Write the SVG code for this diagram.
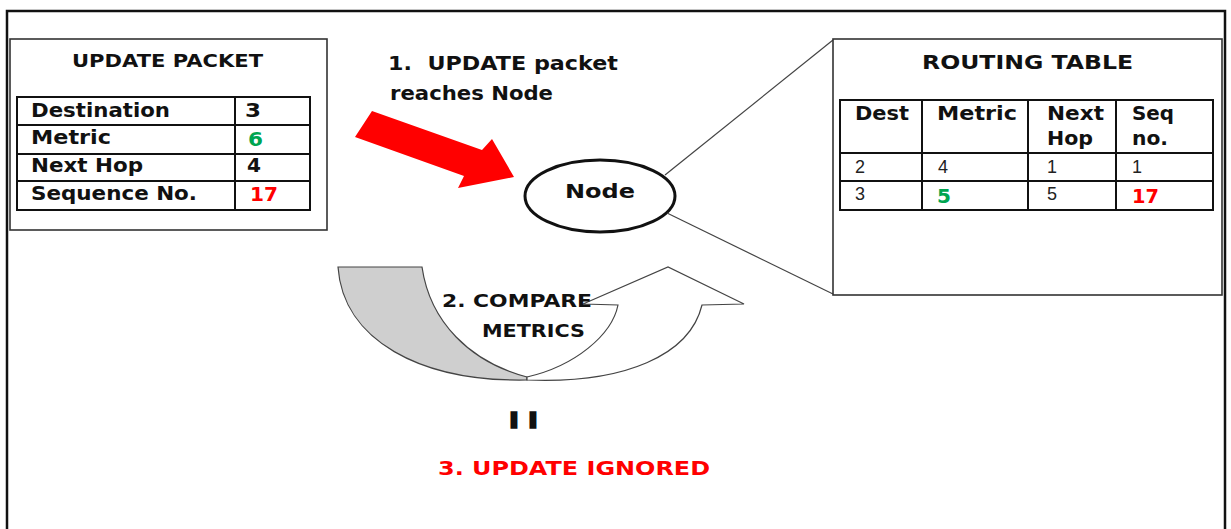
<svg xmlns="http://www.w3.org/2000/svg" width="1231" height="529" viewBox="0 0 1231 529">
  <style>
    .b { font-family: "DejaVu Sans", Verdana, sans-serif; font-weight: bold; fill: #111; }
    .r { font-family: "Liberation Sans", Arial, sans-serif; font-size: 18px; fill: #222; }
    .grid { fill: none; stroke: #111; stroke-width: 2; }
    .box { fill: #fff; stroke: #333; stroke-width: 1.6; }
    .green { fill: #00a550; }
    .red { fill: #ff0000; }
    .link { stroke: #444; stroke-width: 1.2; fill: none; }
  </style>

  <rect width="1231" height="529" fill="#fff"/>

  <!-- page frame (open at the bottom) -->
  <path d="M7,529 V11 H1225 V529" fill="none" stroke="#111" stroke-width="2.5"/>

  <!-- UPDATE PACKET -->
  <g id="update-packet">
    <rect class="box" x="10" y="39" width="317" height="191"/>
    <text class="b" x="72" y="67" font-size="18" textLength="191" lengthAdjust="spacingAndGlyphs">UPDATE PACKET</text>
    <rect class="grid" x="17" y="97" width="293" height="113"/>
    <path class="grid" d="M17,125 H310 M17,154 H310 M17,181 H310 M235,97 V210"/>
    <text class="b" x="31" y="117" font-size="19" textLength="139" lengthAdjust="spacingAndGlyphs">Destination</text>
    <text class="b" x="31" y="144" font-size="19" textLength="80" lengthAdjust="spacingAndGlyphs">Metric</text>
    <text class="b" x="31" y="172" font-size="19" textLength="112" lengthAdjust="spacingAndGlyphs">Next Hop</text>
    <text class="b" x="31" y="200" font-size="19" textLength="166" lengthAdjust="spacingAndGlyphs">Sequence No.</text>
    <text class="b" x="245" y="117" font-size="19" textLength="16" lengthAdjust="spacingAndGlyphs">3</text>
    <text class="b green" x="248" y="146" font-size="19" textLength="15" lengthAdjust="spacingAndGlyphs">6</text>
    <text class="b" x="247" y="172" font-size="19" textLength="14" lengthAdjust="spacingAndGlyphs">4</text>
    <text class="b red" x="250" y="201" font-size="19" textLength="28" lengthAdjust="spacingAndGlyphs">17</text>
  </g>

  <!-- step 1 label and arrow -->
  <g id="step-1">
    <text class="b" x="388" y="70" font-size="19" textLength="230" lengthAdjust="spacingAndGlyphs" xml:space="preserve">1.  UPDATE packet</text>
    <text class="b" x="390" y="100" font-size="19" textLength="163" lengthAdjust="spacingAndGlyphs">reaches Node</text>
    <polygon points="372,111 482,150 492,139 514,177 458,188 464,176 355,137" fill="#ff0000"/>
  </g>

  <!-- Node -->
  <g id="node">
    <ellipse cx="600" cy="196" rx="75" ry="36" fill="#fff" stroke="#111" stroke-width="3"/>
    <text class="b" x="565" y="198" font-size="20" textLength="70" lengthAdjust="spacingAndGlyphs">Node</text>
  </g>

  <!-- callout lines from the node to its routing table -->
  <g id="connectors">
    <line class="link" x1="665" y1="175" x2="833" y2="40"/>
    <line class="link" x1="667" y1="213" x2="833" y2="294"/>
  </g>

  <!-- ROUTING TABLE -->
  <g id="routing-table">
    <rect class="box" x="833" y="39" width="389" height="256"/>
    <text class="b" x="922" y="69" font-size="19" textLength="211" lengthAdjust="spacingAndGlyphs">ROUTING TABLE</text>
    <rect class="grid" x="840" y="100" width="373" height="110"/>
    <path class="grid" d="M840,153 H1213 M840,181 H1213 M922,100 V210 M1028,100 V210 M1116,100 V210"/>
    <text class="b" x="855" y="120" font-size="19" textLength="54" lengthAdjust="spacingAndGlyphs">Dest</text>
    <text class="b" x="937" y="120" font-size="19" textLength="80" lengthAdjust="spacingAndGlyphs">Metric</text>
    <text class="b" x="1047" y="120" font-size="19" textLength="57" lengthAdjust="spacingAndGlyphs">Next</text>
    <text class="b" x="1047" y="145" font-size="19" textLength="46" lengthAdjust="spacingAndGlyphs">Hop</text>
    <text class="b" x="1132" y="120" font-size="19" textLength="42" lengthAdjust="spacingAndGlyphs">Seq</text>
    <text class="b" x="1132" y="145" font-size="19" textLength="36" lengthAdjust="spacingAndGlyphs">no.</text>
    <text class="r" x="855" y="173">2</text>
    <text class="r" x="938" y="173">4</text>
    <text class="r" x="1047" y="173">1</text>
    <text class="r" x="1132" y="173">1</text>
    <text class="r" x="855" y="200">3</text>
    <text class="b green" x="937" y="203" font-size="19" textLength="14" lengthAdjust="spacingAndGlyphs">5</text>
    <text class="r" x="1047" y="200">5</text>
    <text class="b red" x="1132" y="203" font-size="19" textLength="27" lengthAdjust="spacingAndGlyphs">17</text>
  </g>

  <!-- step 2: curved compare arrow -->
  <g id="step-2">
    <path d="M338,267 L422,267 C430,322 470,362 527,377 L527,380 C420,382 343,340 338,267 Z" fill="#cfcfcf" stroke="#444" stroke-width="1.2"/>
    <path d="M527,377 C575,366 612,335 618,305 L583,304 L668,267 L744,304 L702,305 C690,355 625,384 527,380 Z" fill="#fff" stroke="#444" stroke-width="1.2"/>
    <text class="b" x="442" y="307" font-size="18" textLength="150" lengthAdjust="spacingAndGlyphs">2. COMPARE</text>
    <text class="b" x="482" y="337" font-size="18" textLength="103" lengthAdjust="spacingAndGlyphs">METRICS</text>
  </g>

  <!-- step 3 result -->
  <g id="step-3">
    <text class="b" x="509" y="428" font-size="22" textLength="29" lengthAdjust="spacingAndGlyphs" stroke="#111" stroke-width="1.6">I I</text>
    <text class="b red" x="438" y="475" font-size="20" textLength="272" lengthAdjust="spacingAndGlyphs">3. UPDATE IGNORED</text>
  </g>
</svg>
